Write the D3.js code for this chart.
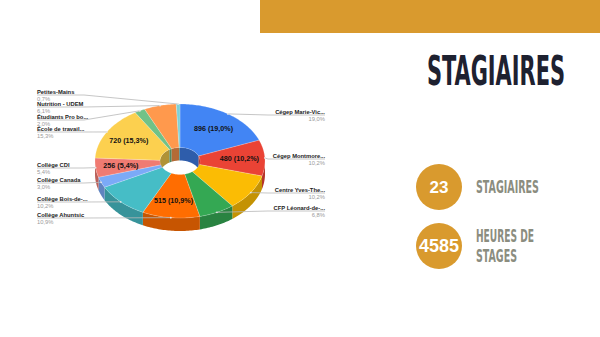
<!DOCTYPE html>
<html>
<head>
<meta charset="utf-8">
<script src="https://cdn.jsdelivr.net/npm/d3@7"></script>
<style>
  html, body { margin: 0; padding: 0; background: #fff; }
  svg { display: block; }
</style>
</head>
<body>
<svg id="chart" width="600" height="337"></svg>
<script>
// pie data (clockwise from 12 o'clock)
const categories = [
    "Cégep Marie-Vic...", "Cégep Montmore...", "Centre Yves-The...", "CFP Léonard-de-...",
    "Collège Ahuntsic", "Collège Bois-de-...", "Collège Canada", "Collège CDI",
    "École de travail...", "Étudiants Pro bo...", "Nutrition - UDEM", "Petites-Mains"
];
const values = [896, 480, 480, 320, 515, 480, 142, 256, 720, 95, 288, 33];
const showValue = [true, true, false, false, true, false, false, true, true, false, false, false];
const palette = [
    "#4285f4", "#ea4335", "#fbbc04", "#34a853", "#ff6d01", "#46bdc6",
    "#7baaf7", "#f07b72", "#fcd04f", "#71c287", "#ff994d", "#7ed1d7"
];

// slide text
const title = "STAGIAIRES";
const kpiNumbers = ["23", "4585"];
const kpiLabels = [["STAGIAIRES"], ["HEURES DE", "STAGES"]];

// layout
const cx = 180, cy = 161, rx = 85, ry = 57, irx = 20, iry = 13.5, depth = 13;
const labelY = [115, 159, 193, 211, 218, 202, 183, 168, 132, 120, 107, 95];
const gold = "#d99a2e";

const svg = d3.select("#chart");
const color = d3.scaleOrdinal(categories, palette);
const total = d3.sum(values);
const pct = v => d3.format(".1f")(v / total * 100).replace(".", ",");

const arcs = d3.pie().sort(null).value(d => d)(values);
arcs.forEach((a, i) => { a.name = categories[i]; a.mid = (a.startAngle + a.endAngle) / 2; });

function pt(a, f, dy) {
    return [cx + rx * f * Math.sin(a), cy - ry * f * Math.cos(a) + (dy || 0)];
}
function ring(a0, a1, ex, ey, dy) {
    const n = Math.max(2, Math.ceil((a1 - a0) / 0.02));
    const out = [];
    for (let k = 0; k <= n; k++) {
        const a = a0 + (a1 - a0) * k / n;
        out.push([cx + ex * Math.sin(a), cy - ey * Math.cos(a) + dy]);
    }
    return out;
}
function wall(a0, a1, ex, ey) {
    const top = ring(a0, a1, ex, ey, 0);
    const bot = ring(a0, a1, ex, ey, depth).reverse();
    return "M" + top.concat(bot).join("L") + "Z";
}
function clip(a, lo, hi) {
    const s = Math.max(a.startAngle, lo), e = Math.min(a.endAngle, hi);
    return s < e ? [s, e] : null;
}

const pie = svg.append("g");

// inner back walls (seen through the hole)
arcs.forEach(a => {
    [[0, Math.PI / 2], [Math.PI * 1.5, Math.PI * 2]].forEach(r => {
        const c = clip(a, r[0], r[1]);
        if (c) pie.append("path").attr("d", wall(c[0], c[1], irx, iry))
            .attr("fill", d3.color(color(a.name)).darker(1));
    });
});

// outer front walls
arcs.forEach(a => {
    const c = clip(a, Math.PI / 2, Math.PI * 1.5);
    if (c) pie.append("path").attr("d", wall(c[0], c[1], rx, ry))
        .attr("fill", d3.color(color(a.name)).darker(0.7));
});

// top faces
pie.selectAll("path.top")
    .data(arcs)
    .join("path")
    .attr("class", "top")
    .attr("d", a => {
        const o = ring(a.startAngle, a.endAngle, rx, ry, 0);
        const inn = ring(a.startAngle, a.endAngle, irx, iry, 0).reverse();
        return "M" + o.concat(inn).join("L") + "Z";
    })
    .attr("fill", a => color(a.name))
    .attr("stroke", "#fff")
    .attr("stroke-opacity", 0.5)
    .attr("stroke-width", 0.4);

// value labels inside slices
pie.selectAll("text.val")
    .data(arcs.filter((a, i) => showValue[i]))
    .join("text")
    .attr("class", "val")
    .attr("x", a => pt(a.mid, 0.7)[0])
    .attr("y", a => pt(a.mid, 0.7)[1] + 2.5)
    .attr("text-anchor", "middle")
    .attr("font-family", "Liberation Sans, Arial, sans-serif")
    .attr("font-weight", "bold")
    .attr("font-size", 7.2)
    .attr("fill", "#111")
    .text(a => a.value + " (" + pct(a.value) + "%)");

// leader lines and outside labels
const lab = svg.append("g").attr("font-family", "Liberation Sans, Arial, sans-serif").attr("font-size", 5.8);
arcs.forEach((a, i) => {
    const p = pt(a.mid, 1);
    const right = Math.sin(a.mid) > 0;
    const y = labelY[i];
    const tx = right ? 325 : 37;
    const ex = right ? Math.max(p[0], 268) : Math.min(p[0], 84);
    lab.append("path")
        .attr("d", d3.line()([[tx, y], [ex, y], p]))
        .attr("fill", "none")
        .attr("stroke", "#b8b8b8")
        .attr("stroke-width", 0.8);
    lab.append("circle").attr("cx", p[0]).attr("cy", p[1]).attr("r", 0.9).attr("fill", "#e6e6e6");
    lab.append("text")
        .attr("x", tx).attr("y", y - 1)
        .attr("text-anchor", right ? "end" : "start")
        .attr("font-weight", "bold")
        .attr("fill", "#222")
        .text(a.name);
    lab.append("text")
        .attr("x", tx).attr("y", y + 5.6)
        .attr("text-anchor", right ? "end" : "start")
        .attr("fill", "#9a9a9a")
        .text(pct(a.value) + "%");
});

// right side of the slide
svg.append("rect").attr("x", 260).attr("y", 0).attr("width", 340).attr("height", 33).attr("fill", gold);

svg.append("text")
    .attr("transform", "translate(427,85) scale(1,1.4)")
    .attr("font-family", "Liberation Sans Narrow, DejaVu Sans Condensed, sans-serif")
    .attr("font-weight", "bold")
    .attr("font-size", 29)
    .attr("textLength", 138)
    .attr("lengthAdjust", "spacingAndGlyphs")
    .attr("fill", "#1e2130")
    .text(title);

const kpiY = [187, 246];
const kpiSize = [17, 18];
const kpiWidths = [[63], [58, 41]];
kpiNumbers.forEach((n, i) => {
    svg.append("circle").attr("cx", 439).attr("cy", kpiY[i]).attr("r", 23).attr("fill", gold);
    svg.append("text")
        .attr("x", 439).attr("y", kpiY[i] + kpiSize[i] * 0.36)
        .attr("text-anchor", "middle")
        .attr("font-family", "Liberation Sans, Arial, sans-serif")
        .attr("font-weight", "bold")
        .attr("font-size", kpiSize[i])
        .attr("fill", "#fff")
        .text(n);
    const lines = kpiLabels[i];
    lines.forEach((t, j) => {
        const ly = kpiY[i] + 6 + (j - (lines.length - 1) / 2) * 20;
        svg.append("text")
            .attr("transform", `translate(476,${ly}) scale(1,1.3)`)
            .attr("font-family", "Liberation Sans Narrow, DejaVu Sans Condensed, sans-serif")
            .attr("font-weight", "bold")
            .attr("font-size", 13)
            .attr("textLength", kpiWidths[i][j])
            .attr("lengthAdjust", "spacingAndGlyphs")
            .attr("fill", "#8b8d7f")
            .text(t);
    });
});
</script>
</body>
</html>
